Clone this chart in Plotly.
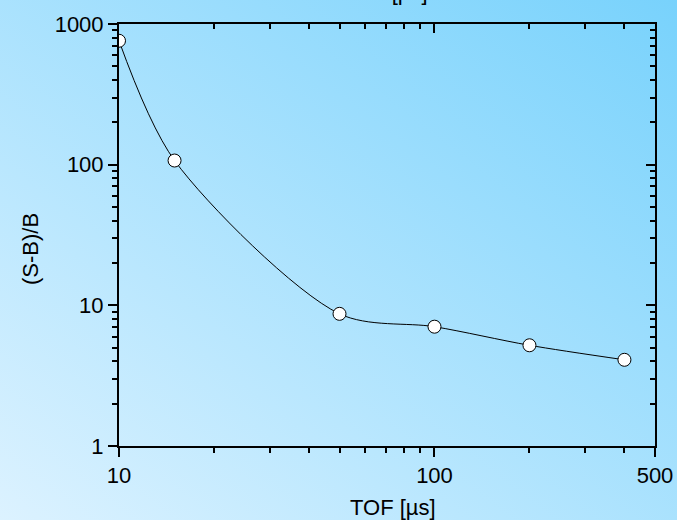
import base64
import math
import plotly.graph_objects as go

# ---- data ----
tof_us = [10, 15, 50, 100, 200, 400]
ratio = [760, 107, 8.7, 7.05, 5.2, 4.1]

x_major = [10, 100, 500]
x_major_text = ["10", "100", "500"]
x_minor = [20, 30, 40, 50, 60, 70, 80, 90, 200, 300, 400]
y_major = [1, 10, 100, 1000]
y_major_text = ["1", "10", "100", "1000"]
y_minor = [m * 10 ** d for d in range(3) for m in range(2, 10)]

x_title = "TOF [µs]"
y_title = "(S-B)/B"

W, H = 677, 520
L, R, T, B = 119, 22, 24, 74
pw, ph = W - L - R, H - T - B

FONT = "Liberation Sans, Arial, sans-serif"
FS = 22

svg = (
    '<svg xmlns="http://www.w3.org/2000/svg" width="677" height="520" '
    'preserveAspectRatio="none" viewBox="0 0 677 520">'
    '<defs><linearGradient id="g" x1="0" y1="1" x2="1" y2="0">'
    '<stop offset="0" stop-color="#dcf2ff"/>'
    '<stop offset="1" stop-color="#78d2fc"/>'
    '</linearGradient></defs>'
    '<rect width="677" height="520" fill="url(#g)"/></svg>'
)
src = "data:image/svg+xml;base64," + base64.b64encode(svg.encode()).decode()

fig = go.Figure()
fig.add_trace(go.Scatter(
    x=tof_us, y=ratio, mode="lines+markers",
    line=dict(color="black", width=1, shape="spline", smoothing=0.85),
    marker=dict(size=13, color="white", line=dict(color="black", width=1)),
    showlegend=False, hoverinfo="skip",
))
fig.add_trace(go.Scatter(
    x=tof_us, y=ratio, mode="none", xaxis="x2", yaxis="y2",
    showlegend=False, hoverinfo="skip",
))

xr = [math.log10(10), math.log10(500)]
yr = [0, 3]

common_x = dict(type="log", range=xr, showgrid=False, zeroline=False,
                showline=True, linecolor="black", linewidth=2,
                tickvals=x_major, ticktext=x_major_text, automargin=False,
                ticklen=9, tickwidth=1.5, tickcolor="black")
common_y = dict(type="log", range=yr, showgrid=False, zeroline=False,
                showline=True, linecolor="black", linewidth=2,
                tickvals=y_major, ticktext=y_major_text, automargin=False,
                ticklen=9, tickwidth=1.5, tickcolor="black")

fig.update_layout(
    width=W, height=H,
    margin=dict(l=L, r=R, t=T, b=B, pad=0),
    paper_bgcolor="#b0e2fd",
    plot_bgcolor="rgba(0,0,0,0)",
    font=dict(family=FONT, size=FS, color="black"),
    xaxis=dict(**common_x, ticks="outside", side="bottom",
               tickfont=dict(size=FS),
               minor=dict(tickvals=x_minor, ticks="outside", ticklen=5,
                          tickwidth=1.5, tickcolor="black", showgrid=False)),
    yaxis=dict(**common_y, ticks="outside", side="left",
               tickfont=dict(size=FS),
               minor=dict(tickvals=y_minor, ticks="outside", ticklen=5,
                          tickwidth=1.5, tickcolor="black", showgrid=False)),
    xaxis2=dict(**common_x, ticks="inside", side="top", overlaying="x",
                anchor="y", showticklabels=False,
                minor=dict(tickvals=x_minor, ticks="inside", ticklen=5,
                           tickwidth=1.5, tickcolor="black", showgrid=False)),
    yaxis2=dict(**common_y, ticks="inside", side="right", overlaying="y",
                anchor="x", showticklabels=False,
                minor=dict(tickvals=y_minor, ticks="inside", ticklen=5,
                           tickwidth=1.5, tickcolor="black", showgrid=False)),
    images=[dict(source=src, xref="paper", yref="paper",
                 x=-L / pw, y=1 + T / ph, sizex=W / pw, sizey=H / ph,
                 xanchor="left", yanchor="top", sizing="stretch",
                 layer="below")],
    annotations=[
        dict(text=x_title, xref="paper", yref="paper",
             x=(393 - L) / pw, y=-(507 - T - ph) / ph,
             xanchor="center", yanchor="middle", showarrow=False,
             font=dict(size=FS)),
        dict(text=x_title, xref="paper", yref="paper",
             x=(385 - L) / pw, y=1 + (T + 8) / ph,
             xanchor="center", yanchor="middle", showarrow=False,
             font=dict(size=FS)),
        dict(text=y_title, xref="paper", yref="paper",
             x=(30 - L) / pw, y=1 - (249 - T) / ph, textangle=-90,
             xanchor="center", yanchor="middle", showarrow=False,
             font=dict(size=FS)),
    ],
)

fig.write_html(
    "out.html",
    config={"displayModeBar": False},
    post_script="document.body.style.margin='0';"
                "document.body.style.overflow='hidden';",
)
